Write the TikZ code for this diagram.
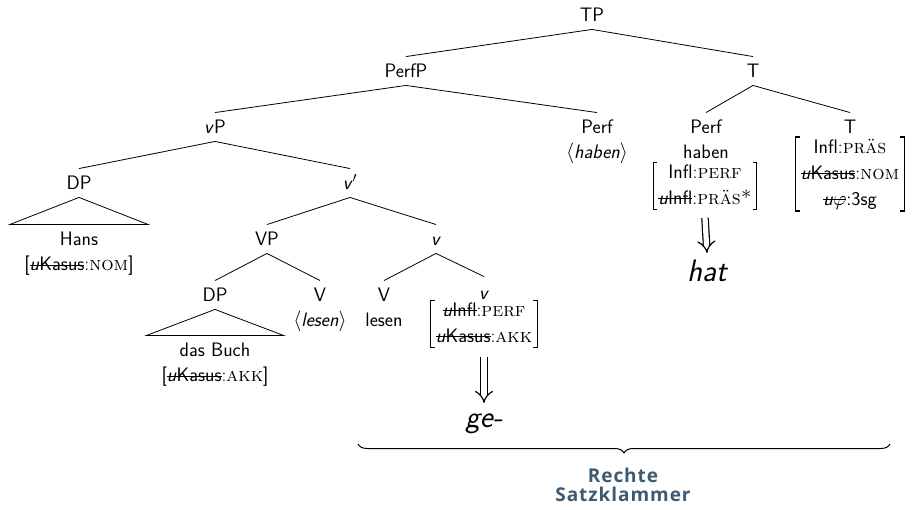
\documentclass[tikz,border=0pt]{standalone}
\usepackage{fontspec}
\newfontfamily\labelfont[LetterSpace=5]{Open Sans}
\usetikzlibrary{decorations.pathreplacing,arrows.meta,calc}
\definecolor{klammer}{HTML}{3C5A74}
% struck-through (checked) feature name
\newcommand{\strk}[1]{\setbox0=\hbox{#1}\rlap{\rule[0.28em]{\wd0}{0.05em}}\box0}
% feature value in serif small caps
\newcommand{\ftr}[1]{{\rmfamily:\textsc{#1}}}
% rows of an attribute-value matrix
\newcommand{\avmrows}[1]{$\begin{array}{@{}c@{}}#1\end{array}$}
% square brackets round a matrix node
\newcommand{\avmbrackets}[1]{%
  \draw[avmbr] ([shift={(4pt,-2.5pt)}]#1.north west) -- ([yshift=-2.5pt]#1.north west)
     -- ([yshift=2.5pt]#1.south west) -- ([shift={(4pt,2.5pt)}]#1.south west);
  \draw[avmbr] ([shift={(-4pt,-2.5pt)}]#1.north east) -- ([yshift=-2.5pt]#1.north east)
     -- ([yshift=2.5pt]#1.south east) -- ([shift={(-4pt,2.5pt)}]#1.south east);}

\begin{document}
\begin{tikzpicture}[x=1pt,y=-1pt,
  font=\sffamily\fontsize{19.5}{23.4}\selectfont,
  every node/.style={inner sep=0pt},
  cat/.style={text height=13.5pt, text depth=0pt, inner ysep=7.5pt, inner xsep=0pt},
  branch/.style={line width=0.8pt},
  sub/.style={anchor=base},
  avm/.style={inner xsep=5pt, inner ysep=0pt},
  avmbr/.style={line width=1.1pt},
  bigword/.style={anchor=base, font=\sffamily\itshape\fontsize{31}{36}\selectfont},
  derive/.style={double, double distance=5.2pt, line width=1.2pt, -{Implies[length=7pt, width=16pt]}},
  klam/.style={anchor=base, text=klammer, font=\labelfont\bfseries\fontsize{19}{22}\selectfont}
]
\renewcommand{\arraystretch}{1.12}
\useasboundingbox (0,0) rectangle (913,510);

% category labels
\node[cat] (TP)    at (592,15)  {TP};
\node[cat] (PerfP) at (406,71)  {PerfP};
\node[cat] (T)     at (753,71)  {T};
\node[cat] (vP)    at (215,127) {\textit{v}P};
\node[cat] (Perf1) at (597,127) {Perf};
\node[cat] (Perf2) at (706,127) {Perf};
\node[cat] (T2)    at (850,127) {T};
\node[cat] (DP1)   at (79,183)  {DP};
\node[cat] (vbar)  at (350,183) {\textit{v}$'$};
\node[cat] (VP)    at (267,239) {VP};
\node[cat] (v)     at (436,239) {\textit{v}};
\node[cat] (DP2)   at (215,295) {DP};
\node[cat] (V1)    at (320,295) {V};
\node[cat] (V2)    at (384,295) {V};
\node[cat] (v2)    at (484,293) {\textit{v}};

% branches
\draw[branch] (TP.south) -- (PerfP.north);
\draw[branch] (TP.south) -- (T.north);
\draw[branch] (PerfP.south) -- (vP.north);
\draw[branch] (PerfP.south) -- (Perf1.north);
\draw[branch] (T.south) -- (Perf2.north);
\draw[branch] (T.south) -- (T2.north);
\draw[branch] (vP.south) -- (DP1.north);
\draw[branch] (vP.south) -- (vbar.north);
\draw[branch] (vbar.south) -- (VP.north);
\draw[branch] (vbar.south) -- (v.north);
\draw[branch] (VP.south) -- (DP2.north);
\draw[branch] (VP.south) -- (V1.north);
\draw[branch] (v.south) -- (V2.north);
\draw[branch] (v.south) -- ([yshift=2pt]v2.north);

% triangles over unanalysed DPs
\draw[branch] (DP1.south) -- ++(-69,27) -- ++(138,0) -- cycle;
\draw[branch] (DP2.south) -- ++(-68.5,26) -- ++(137,0) -- cycle;

% terminal material
\node[sub] (hans)   at (79,246)  {Hans};
\node[sub] (hansk)  at (79,271)  {[\strk{\textit{u}Kasus}\ftr{nom}]};
\node[sub] (buch)   at (215,357) {das Buch};
\node[sub] (buchk)  at (215,382) {[\strk{\textit{u}Kasus}\ftr{akk}]};
\node[sub] (lesen1) at (320,327) {$\langle$\textit{lesen}$\rangle$};
\node[sub] (lesen2) at (384,327) {lesen};
\node[sub] (haben1) at (597,159) {$\langle$\textit{haben}$\rangle$};
\node[sub] (haben2) at (706,159) {haben};

% feature matrices
\node[avm] (vavm) at (484,324) {\avmrows{\mbox{\strk{\textit{u}Infl}\ftr{perf}}\\ \mbox{\strk{\textit{u}Kasus}\ftr{akk}}}};
\node[avm] (pavm) at (705,186) {\avmrows{\mbox{Infl\ftr{perf}}\\ \mbox{\strk{\textit{u}Infl}\ftr{präs*}}}};
\node[avm] (tavm) at (850,174) {\avmrows{\mbox{Infl\ftr{präs}}\\ \mbox{\strk{\textit{u}Kasus}\ftr{nom}}\\ \mbox{\strk{\textit{u}$\varphi$}:3sg}}};
\avmbrackets{vavm}
\avmbrackets{pavm}
\avmbrackets{tavm}

% spell-out
\node[bigword] (ge)  at (484,428) {ge-};
\node[bigword] (hat) at (707,282) {hat};
\draw[derive] ($(vavm.center)+(0,33)$) -- ($(ge.base)+(0,-25)$);
\draw[derive] ($(pavm.center)+(0,32)$) -- ($(hat.base)+(0,-29)$);

% right sentence bracket
\coordinate (bl) at (358,444);
\coordinate (br) at (890,444);
\draw[line width=1pt, decorate, decoration={brace, amplitude=9pt, mirror}] (bl) -- (br);
\node[klam] (rk1) at (623,482) {Rechte};
\node[klam] (rk2) at (623,501) {Satzklammer};
\end{tikzpicture}
\end{document}
